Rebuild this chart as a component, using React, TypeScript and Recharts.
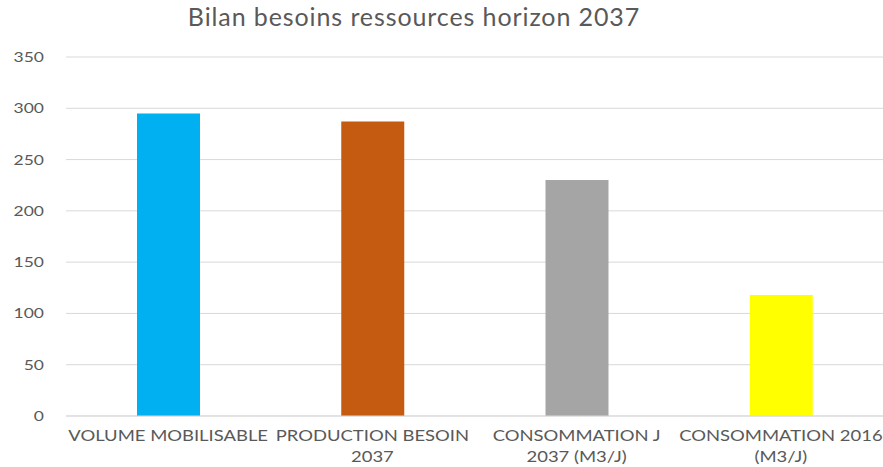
import { Bar, BarChart, CartesianGrid, Cell, XAxis, YAxis } from "recharts";

const categories = [
  "VOLUME MOBILISABLE",
  "PRODUCTION BESOIN 2037",
  "CONSOMMATION J 2037 (M3/J)",
  "CONSOMMATION 2016 (M3/J)",
];
const values = [295, 287, 230, 118];
const tickLines = [
  ["VOLUME MOBILISABLE"],
  ["PRODUCTION BESOIN", "2037"],
  ["CONSOMMATION J", "2037 (M3/J)"],
  ["CONSOMMATION 2016", "(M3/J)"],
];
const yTicks = [0, 50, 100, 150, 200, 250, 300, 350];
const colors = ["#00B0F0", "#C55A11", "#A5A5A5", "#FFFF00"];

const data = categories.map((name, i) => ({ name, value: values[i] }));

const FONT = "Lato, 'Open Sans', sans-serif";

// the source image is a bit stretched sideways, so text is widened to match
function CategoryTick(props: any) {
  const { x, y, payload } = props;
  const lines = tickLines[payload.index] ?? [payload.value];
  return (
    <g transform={`translate(${x},${y}) scale(1.23,1)`}>
      {lines.map((line: string, i: number) => (
        <text
          key={i}
          x={0}
          y={17 + i * 21}
          textAnchor="middle"
          fill="#595959"
          fontSize={15}
          fontFamily={FONT}
        >
          {line}
        </text>
      ))}
    </g>
  );
}

function ValueTick(props: any) {
  const { y, payload } = props;
  return (
    <g transform={`translate(44,${y}) scale(1.25,1)`}>
      <text x={0} y={0} dy={5} textAnchor="end" fill="#595959" fontSize={14} fontFamily={FONT}>
        {payload.value}
      </text>
    </g>
  );
}

export default function App() {
  return (
    <div style={{ position: "absolute", left: 0, top: 0, width: 883, height: 467, background: "#fff" }}>
      <div
        style={{
          position: "absolute",
          left: 0,
          top: 1,
          width: 883,
          textAlign: "center",
          fontFamily: FONT,
          fontSize: 25,
          letterSpacing: 0.9,
          color: "#595959",
          paddingRight: 55,
          boxSizing: "border-box",
        }}
      >
        Bilan besoins ressources horizon 2037
      </div>
      <BarChart
        width={883}
        height={467}
        data={data}
        margin={{ top: 57, right: 0, bottom: 0, left: 0 }}
        barSize={63}
      >
        <CartesianGrid vertical={false} stroke="#d9d9d9" />
        <XAxis
          dataKey="name"
          interval={0}
          height={51}
          tickLine={false}
          axisLine={{ stroke: "#d9d9d9" }}
          tick={<CategoryTick />}
        />
        <YAxis
          width={66}
          domain={[0, 350]}
          ticks={yTicks}
          tickLine={false}
          axisLine={false}
          tick={<ValueTick />}
        />
        <Bar dataKey="value" isAnimationActive={false}>
          {data.map((d, i) => (
            <Cell key={d.name} fill={colors[i]} />
          ))}
        </Bar>
      </BarChart>
    </div>
  );
}
